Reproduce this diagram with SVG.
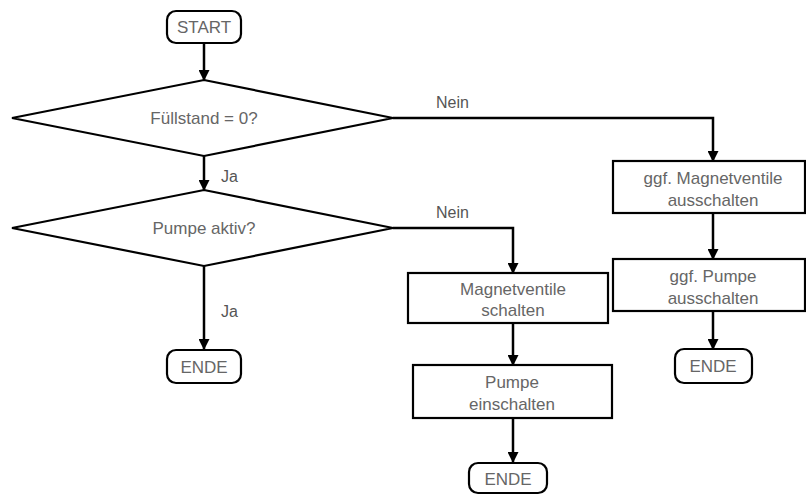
<svg xmlns="http://www.w3.org/2000/svg" width="806" height="495" viewBox="0 0 806 495">
<style>
.s{fill:#fff;stroke:#000;stroke-width:2.2}
.t{font-family:"Liberation Sans",Arial,sans-serif;font-size:17px;fill:#666;text-anchor:middle}
.l{font-family:"Liberation Sans",Arial,sans-serif;font-size:16px;fill:#555}
.c{fill:none;stroke:#000;stroke-width:2.5;marker-end:url(#a)}
</style>
<defs>
<marker id="a" markerWidth="11" markerHeight="11" refX="10" refY="5.5" orient="auto" markerUnits="userSpaceOnUse" viewBox="0 0 11 11">
<path d="M0,0 L11,5.5 L0,11 Z" fill="#000"/>
</marker>
</defs>
<g id="connectors">
<path class="c" d="M204,43 V80"/>
<path class="c" d="M204,156 V190"/>
<path class="c" d="M204,266 V349"/>
<path class="c" d="M393,118 H713 V161"/>
<path class="c" d="M713,213 V259"/>
<path class="c" d="M713,311 V349"/>
<path class="c" d="M393,228 H513 V273"/>
<path class="c" d="M513,323 V365"/>
<path class="c" d="M513,418 V462"/>
<text class="l" x="221" y="182">Ja</text>
<text class="l" x="221" y="317">Ja</text>
<text class="l" x="436" y="108">Nein</text>
<text class="l" x="436" y="218">Nein</text>
</g>
<g id="start"><rect class="s" x="167" y="11" width="74" height="32" rx="9"/><text class="t" x="204" y="33">START</text></g>
<g id="d1"><path class="s" d="M204,80 L393,118 L204,156 L12,118 Z"/><text class="t" x="204" y="124">Füllstand = 0?</text></g>
<g id="d2"><path class="s" d="M204,190 L393,228 L204,266 L12,228 Z"/><text class="t" x="204" y="234">Pumpe aktiv?</text></g>
<g id="ende1"><rect class="s" x="167" y="350" width="74" height="33" rx="9"/><text class="t" x="204" y="373">ENDE</text></g>
<g id="b1"><rect class="s" x="613" y="161" width="192" height="52"/><text class="t" x="713" y="184">ggf. Magnetventile</text><text class="t" x="713" y="206">ausschalten</text></g>
<g id="b2"><rect class="s" x="613" y="259" width="192" height="52"/><text class="t" x="713" y="282">ggf. Pumpe</text><text class="t" x="713" y="304">ausschalten</text></g>
<g id="ende2"><rect class="s" x="675" y="349" width="77" height="34" rx="9"/><text class="t" x="713" y="372">ENDE</text></g>
<g id="b3"><rect class="s" x="408" y="273" width="200" height="50"/><text class="t" x="513" y="295">Magnetventile</text><text class="t" x="513" y="316">schalten</text></g>
<g id="b4"><rect class="s" x="413" y="365" width="199" height="53"/><text class="t" x="512" y="388">Pumpe</text><text class="t" x="512" y="410">einschalten</text></g>
<g id="ende3"><rect class="s" x="469" y="463" width="78" height="30" rx="9"/><text class="t" x="508" y="485">ENDE</text></g>
</svg>
